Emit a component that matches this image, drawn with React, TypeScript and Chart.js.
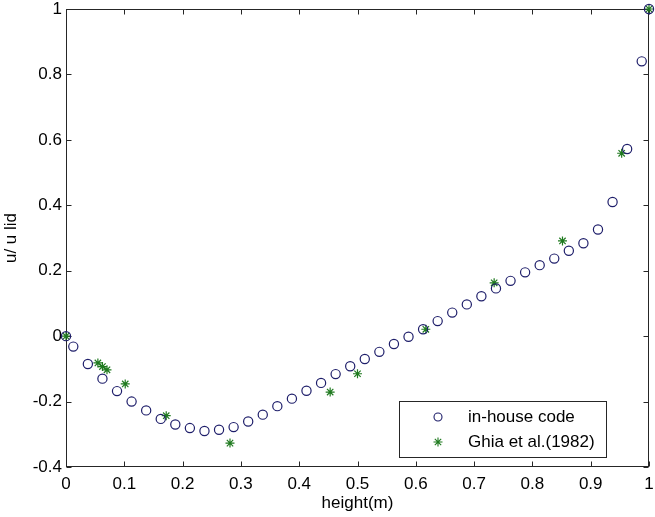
import React, { useEffect, useRef } from "react";
import { Chart, registerables } from "chart.js";

Chart.register(...registerables);

// in-house code (circles)
const inHouseX = [
  0, 0.0125, 0.0375, 0.0625, 0.0875, 0.1125, 0.1375, 0.1625, 0.1875, 0.2125,
  0.2375, 0.2625, 0.2875, 0.3125, 0.3375, 0.3625, 0.3875, 0.4125, 0.4375, 0.4625,
  0.4875, 0.5125, 0.5375, 0.5625, 0.5875, 0.6125, 0.6375, 0.6625, 0.6875, 0.7125,
  0.7375, 0.7625, 0.7875, 0.8125, 0.8375, 0.8625, 0.8875, 0.9125, 0.9375, 0.9625,
  0.9875, 1,
];
const inHouseY = [
  0, -0.032, -0.085, -0.13, -0.168, -0.2, -0.227, -0.253, -0.27, -0.281,
  -0.29, -0.286, -0.278, -0.261, -0.24, -0.214, -0.191, -0.167, -0.143, -0.116,
  -0.092, -0.07, -0.048, -0.024, -0.002, 0.021, 0.046, 0.072, 0.097, 0.122,
  0.146, 0.169, 0.195, 0.217, 0.237, 0.261, 0.284, 0.326, 0.41, 0.572,
  0.84, 1,
];

// Ghia et al. (1982) (stars)
const ghiaX = [0, 0.0547, 0.0625, 0.0703, 0.1016, 0.1719, 0.2813, 0.4531, 0.5, 0.6172, 0.7344, 0.8516, 0.9531, 1];
const ghiaY = [0, -0.082, -0.093, -0.103, -0.146, -0.243, -0.327, -0.171, -0.115, 0.021, 0.163, 0.291, 0.559, 1];

const seriesLabels = ["in-house code", "Ghia et al.(1982)"];
const xTitle = "height(m)";
const yTitle = "u/ u lid";

const FONT = "'Liberation Sans', Arial, Helvetica, sans-serif";
const FONT_SIZE = 17;
const AXIS = "#262626";
const BLUE = "#1e1e6a";
const GREEN = "#1f7a1f";

const fmt = (v: number) => String(Math.round(v * 10) / 10);

const framePlugin = {
  id: "frame",
  beforeDatasetsDraw(chart: any) {
    const { ctx, chartArea: a, scales } = chart;
    const x = scales.x;
    const y = scales.y;
    const L = Math.round(a.left) + 0.5;
    const R = Math.round(a.right) - 0.5;
    const T = Math.round(a.top) + 0.5;
    const B = Math.round(a.bottom) - 0.5;
    const tl = 5;
    ctx.save();
    ctx.strokeStyle = AXIS;
    ctx.lineWidth = 1;
    ctx.strokeRect(L, T, R - L, B - T);
    ctx.beginPath();
    x.ticks.forEach((t: any) => {
      const px = Math.round(x.getPixelForValue(t.value)) + 0.5;
      ctx.moveTo(px, B);
      ctx.lineTo(px, B - tl);
      ctx.moveTo(px, T);
      ctx.lineTo(px, T + tl);
    });
    y.ticks.forEach((t: any) => {
      const py = Math.round(y.getPixelForValue(t.value)) + 0.5;
      ctx.moveTo(L, py);
      ctx.lineTo(L + tl, py);
      ctx.moveTo(R, py);
      ctx.lineTo(R - tl, py);
    });
    ctx.stroke();
    ctx.restore();
  },
};

const legendPlugin = {
  id: "boxLegend",
  afterDraw(chart: any) {
    const { ctx, chartArea: a } = chart;
    const w = 207;
    const h = 56;
    const right = Math.round(a.right) - 43;
    const bottom = Math.round(a.bottom) - 10;
    const left = right - w;
    const top = bottom - h;
    ctx.save();
    ctx.fillStyle = "#ffffff";
    ctx.fillRect(left, top, w, h);
    ctx.strokeStyle = AXIS;
    ctx.lineWidth = 1;
    ctx.strokeRect(left + 0.5, top + 0.5, w, h);
    const mx = left + 39;
    const tx = left + 69;
    const rows = [top + 16, top + 41];
    // circle marker
    ctx.beginPath();
    ctx.strokeStyle = BLUE;
    ctx.lineWidth = 1.1;
    ctx.arc(mx, rows[0], 4, 0, Math.PI * 2);
    ctx.stroke();
    // star marker
    ctx.strokeStyle = GREEN;
    ctx.beginPath();
    const r = 4.5;
    ctx.moveTo(mx - r, rows[1]);
    ctx.lineTo(mx + r, rows[1]);
    ctx.moveTo(mx, rows[1] - r);
    ctx.lineTo(mx, rows[1] + r);
    const d = r * Math.SQRT1_2;
    ctx.moveTo(mx - d, rows[1] - d);
    ctx.lineTo(mx + d, rows[1] + d);
    ctx.moveTo(mx - d, rows[1] + d);
    ctx.lineTo(mx + d, rows[1] - d);
    ctx.stroke();
    ctx.fillStyle = "#000000";
    ctx.font = `${FONT_SIZE}px ${FONT}`;
    ctx.textAlign = "left";
    ctx.textBaseline = "middle";
    ctx.fillText(seriesLabels[0], tx, rows[0]);
    ctx.fillText(seriesLabels[1], tx, rows[1]);
    ctx.restore();
  },
};

export default function App() {
  const ref = useRef<HTMLCanvasElement | null>(null);

  useEffect(() => {
    if (!ref.current) return;
    const chart = new Chart(ref.current, {
      type: "scatter",
      data: {
        datasets: [
          {
            label: seriesLabels[0],
            data: inHouseX.map((x, i) => ({ x, y: inHouseY[i] })),
            pointStyle: "circle",
            pointRadius: 4.6,
            pointBorderWidth: 1.2,
            borderColor: BLUE,
            backgroundColor: "rgba(0,0,0,0)",
            clip: false,
          } as any,
          {
            label: seriesLabels[1],
            data: ghiaX.map((x, i) => ({ x, y: ghiaY[i] })),
            pointStyle: "star",
            pointRadius: 4.5,
            pointBorderWidth: 1.2,
            borderColor: GREEN,
            backgroundColor: GREEN,
            clip: false,
          } as any,
        ],
      },
      options: {
        animation: false,
        responsive: false,
        maintainAspectRatio: false,
        layout: { padding: { top: 9, right: 6, left: 0, bottom: 0 } },
        plugins: {
          legend: { display: false },
          tooltip: { enabled: false },
        },
        scales: {
          x: {
            type: "linear",
            min: 0,
            max: 1,
            grid: { display: false, drawTicks: false },
            border: { display: false },
            ticks: {
              stepSize: 0.1,
              autoSkip: false,
              maxRotation: 0,
              padding: 7,
              color: "#000",
              font: { family: FONT, size: FONT_SIZE },
              callback: (v: any) => fmt(Number(v)),
            },
            title: {
              display: true,
              text: xTitle,
              color: "#000",
              font: { family: FONT, size: FONT_SIZE },
              padding: { top: 0, bottom: 3 },
            },
            afterFit: (s: any) => {
              s.height = 50;
              s.paddingLeft = 0;
              s.paddingRight = 0;
            },
          },
          y: {
            type: "linear",
            min: -0.4,
            max: 1,
            grid: { display: false, drawTicks: false },
            border: { display: false },
            ticks: {
              stepSize: 0.2,
              autoSkip: false,
              padding: 4,
              color: "#000",
              font: { family: FONT, size: FONT_SIZE },
              callback: (v: any) => fmt(Number(v)),
            },
            title: {
              display: true,
              text: yTitle,
              color: "#000",
              font: { family: FONT, size: FONT_SIZE },
              padding: { top: 1, bottom: 0 },
            },
            afterFit: (s: any) => {
              s.width = 66;
              s.paddingTop = 0;
              s.paddingBottom = 0;
            },
          },
        },
      },
      plugins: [framePlugin, legendPlugin],
    });
    return () => chart.destroy();
  }, []);

  return (
    <div style={{ position: "fixed", left: 0, top: 0, width: 655, height: 517, background: "#fff" }}>
      <canvas ref={ref} width={655} height={517} style={{ display: "block" }} />
    </div>
  );
}
